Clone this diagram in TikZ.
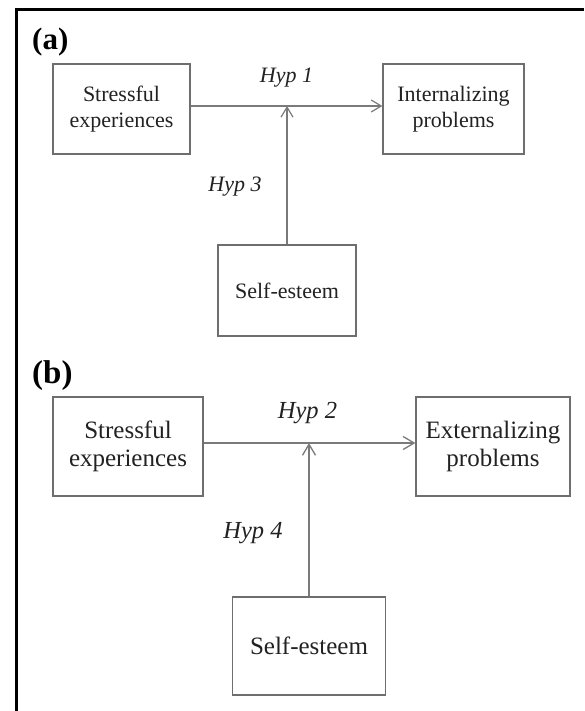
\documentclass[tikz,border=0pt]{standalone}
\usepackage{fontspec}
\setmainfont{Liberation Serif}
\usetikzlibrary{arrows.meta}
\definecolor{boxgray}{HTML}{6E6E6E}
\definecolor{linegray}{HTML}{7A7A7A}
\definecolor{txt}{HTML}{222222}
\begin{document}
\begin{tikzpicture}[x=1pt,y=-1pt,
  box/.style={draw=boxgray,line width=1.2pt,inner sep=0pt,align=center,text=txt},
  boxa/.style={box,font=\fontsize{22}{26}\selectfont},
  boxb/.style={box,font=\fontsize{25}{28.5}\selectfont},
  hypa/.style={anchor=base,text=txt,font=\fontsize{22}{26}\selectfont\itshape,inner sep=0pt},
  hypb/.style={anchor=base,text=txt,font=\fontsize{24.5}{28}\selectfont\itshape,inner sep=0pt},
  paneltag/.style={anchor=base west,inner sep=0pt,font=\bfseries},
  conna/.style={draw=linegray,line width=1.2pt,-{Straight Barb[length=10pt,width=12pt,line width=1.2pt]}},
  connb/.style={draw=linegray,line width=1.3pt,-{Straight Barb[length=11pt,width=13pt,line width=1.3pt]}},
  plain/.style={draw=linegray,line width=1.2pt}]
\useasboundingbox (0,0) rectangle (584,711);
\fill[white] (0,0) rectangle (584,711);
\draw[line width=3pt,black] (16,711) -- (16,10) -- (584,10);

% panel (a)
\node[paneltag,font=\fontsize{31}{31}\selectfont\bfseries] (taga) at (32,50) {(a)};
\node[boxa,minimum width=137pt,minimum height=90pt] (sta) at (121.5,109) {Stressful\\experiences};
\node[boxa,minimum width=141pt,minimum height=90pt] (ina) at (453.5,109) {Internalizing\\problems};
\node[boxa,minimum width=138pt,minimum height=91pt] (sea) at (287,290.5) {Self-esteem};
\coordinate (ha) at (287,106);
\draw[conna] (sta.east |- ha) -- (ina.west |- ha);
\draw[conna] (sea.north) -- (ha);
\node[hypa] (h1) at (286.5,83) {Hyp 1};
\node[hypa] (h3) at (235,192) {Hyp 3};

% panel (b)
\node[paneltag,font=\fontsize{33}{33}\selectfont\bfseries] (tagb) at (32,383) {(b)};
\node[boxb,minimum width=150pt,minimum height=99pt] (stb) at (128,446.5) {Stressful\\experiences};
\node[boxb,minimum width=154pt,minimum height=99pt] (exb) at (493,446.5) {Externalizing\\problems};
\node[boxb,minimum width=153pt,minimum height=98pt] (seb) at (309,646) {Self-esteem};
\coordinate (hb) at (309,443);
\draw[connb] (stb.east |- hb) -- (exb.west |- hb);
\draw[connb] (seb.north) -- (hb);
\node[hypb] (h2) at (307.5,418) {Hyp 2};
\node[hypb] (h4) at (253,538) {Hyp 4};
\end{tikzpicture}
\end{document}
